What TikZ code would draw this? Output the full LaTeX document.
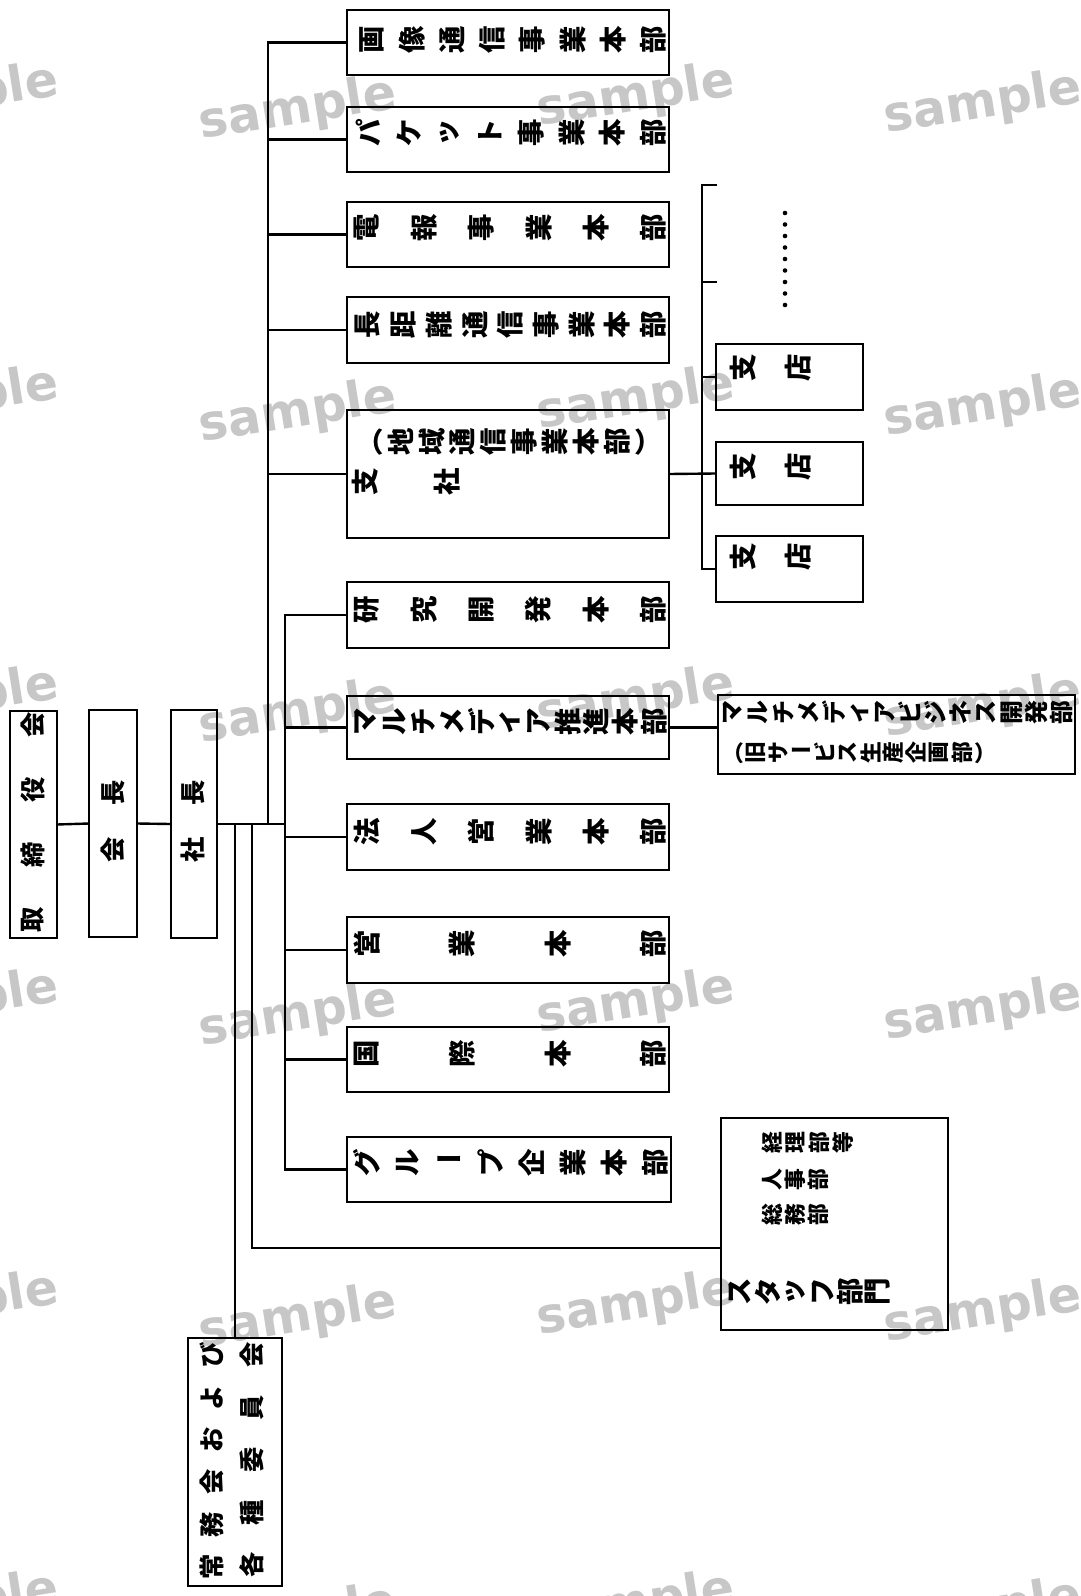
\documentclass[tikz,border=0pt]{standalone}
\usepackage{fontspec}
\usetikzlibrary{calc}
\newfontfamily\cjk{Noto Sans CJK JP}
\newfontfamily\cjkv{Noto Sans CJK JP}
\newfontfamily\wmfont{DejaVu Sans}
\tikzset{
 box/.style={draw, line width=1.9pt, inner sep=0pt, outer sep=0pt, rectangle},
 conn/.style={line width=1.7pt},
 ch/.style={inner sep=0pt, font=\cjkv\bfseries\fontsize{19.5}{20}\selectfont},
 rot/.style={rotate=90},
 chh/.style={font=\cjk\bfseries\fontsize{18}{20}\selectfont},
 small/.style={font=\cjkv\bfseries\fontsize{17}{18}\selectfont},
 smaller/.style={font=\cjkv\bfseries\fontsize{15.5}{16}\selectfont},
 wmark/.style={rotate=9, text=black!22, font=\wmfont\bfseries\fontsize{35}{36}\selectfont, inner sep=0pt}
}
\newcommand\bx[5]{\node[box, minimum width={(#4-#2)*0.025cm}, minimum height={(#5-#3)*0.025cm}] (#1) at ({(#2+#4)/2},{(#3+#5)/2}) {};}
\newcommand\crow[8][]{\foreach \chr [count=\ci from 0] in {#8} {%
  \node[ch,rot,#1] (#2-\ci) at ({#4+(#6-#4)*\ci/(#3-1)},{#5+(#7-#5)*\ci/(#3-1)}) {\chr};}}
\begin{document}
\begin{tikzpicture}[x=0.025cm,y=-0.025cm]
\useasboundingbox (0,0) rectangle (1080,1596);
\clip (0,0) rectangle (1080,1596);
% watermarks
\foreach \wy in {102,405,705,1008,1310,1610} {
  \node[wmark] (wma\wy) at (-40,\wy-5) {sample};
  \node[wmark] (wmb\wy) at (298,\wy+8) {sample};
  \node[wmark] (wmc\wy) at (636,\wy-5) {sample};
  \node[wmark] (wmd\wy) at (983,\wy+2) {sample};
}
% boxes
\bx{b1}{347}{10}{669}{75}
\bx{b2}{347}{107}{669}{172}
\bx{b3}{347}{202}{669}{267}
\bx{b4}{347}{297}{669}{363}
\bx{b5}{347}{410}{669}{538}
\bx{b6}{347}{582}{669}{648}
\bx{b7}{347}{696}{669}{759}
\bx{b8}{347}{804}{669}{870}
\bx{b9}{347}{917}{669}{983}
\bx{b10}{347}{1027}{669}{1092}
\bx{b11}{347}{1137}{671}{1202}
\bx{multi}{718}{695}{1075}{774}
\bx{ten1}{716}{344}{863}{410}
\bx{ten2}{716}{442}{863}{505}
\bx{ten3}{716}{536}{863}{602}
\bx{staff}{721}{1118}{948}{1330}
\bx{tori}{10}{711}{57}{938}
\bx{kai}{89}{710}{137}{937}
\bx{sha}{171}{710}{217}{938}
\bx{jomu}{188}{1338}{282}{1586}
% texts
\crow{t1}{8}{372}{40}{653}{40}{画,像,通,信,事,業,本,部}
\crow{t2}{8}{368}{133}{653}{133}{パ,ケ,ッ,ト,事,業,本,部}
\crow{t3}{6}{367}{228}{653}{228}{電,報,事,業,本,部}
\crow{t4}{9}{368}{325}{653}{325}{長,距,離,通,信,事,業,本,部}
\crow{t5}{10}{370}{442}{648}{442}{{},地,域,通,信,事,業,本,部,{}}
\node[ch] (t5-0u) at (t5-0) {（};
\node[ch] (t5-9u) at (t5-9) {）};
\crow{t5b}{2}{365}{482}{447}{482}{支,社}
\crow{t6}{6}{367}{610}{653}{610}{研,究,開,発,本,部}
\crow{t7}{11}{366}{722}{654}{722}{マ,ル,チ,メ,デ,ィ,ア,推,進,本,部}
\crow{t8}{6}{367}{832}{653}{832}{法,人,営,業,本,部}
\crow{t9}{4}{367}{944}{653}{944}{営,業,本,部}
\crow{t10}{4}{367}{1054}{653}{1054}{国,際,本,部}
\crow{t11}{8}{367}{1163}{655}{1163}{グ,ル,{},プ,企,業,本,部}
\node[ch] (t11-2u) at (t11-2) {ー};
\crow[small]{m1}{14}{733}{713}{1062}{713}{マ,ル,チ,メ,デ,ィ,ア,ビ,ジ,ネ,ス,開,発,部}
\crow[smaller]{m2}{12}{733}{753}{985}{753}{{},旧,サ,{},ビ,ス,生,産,企,画,部,{}}
\node[ch,smaller] (m2-0u) at (m2-0) {（};
\node[ch,smaller] (m2-3u) at (m2-3) {ー};
\node[ch,smaller] (m2-11u) at (m2-11) {）};
\crow{s1}{2}{743}{368}{798}{368}{支,店}
\crow{s2}{2}{743}{467}{798}{467}{支,店}
\crow{s3}{2}{743}{557}{798}{557}{支,店}
\crow[smaller]{f1}{4}{772}{1143}{843}{1143}{経,理,部,等}
\crow[smaller]{f2}{3}{772}{1180}{818}{1180}{人,事,部}
\crow[smaller]{f3}{3}{772}{1215}{818}{1215}{総,務,部}
\crow{f4}{6}{740}{1292}{878}{1292}{ス,タ,ッ,フ,部,門}
\crow[chh]{h1}{4}{33}{920}{33}{725}{取,締,役,会}
\crow[chh]{h2}{2}{113}{850}{113}{793}{会,長}
\crow[chh]{h3}{2}{193}{850}{193}{793}{社,長}
\crow[chh]{h4}{6}{212}{1567}{212}{1355}{常,務,会,お,よ,び}
\crow[chh]{h5}{5}{252}{1565}{252}{1355}{各,種,委,員,会}
% junctions
\coordinate (ja) at (268,824);
\coordinate (jb) at (285,824);
\coordinate (js) at (252,824);
\coordinate (jc) at (235,824);
\coordinate (t3a) at (702,185);
\coordinate (t3b) at (702,282);
\coordinate (k1) at (717,185);
\coordinate (k2) at (717,282);
\coordinate (staffin) at ($(staff.north west)!0.613!(staff.south west)$);
% connectors
\begin{scope}[conn]
\draw (tori.east) -- (kai.west);
\draw (kai.east) -- (sha.west);
\draw (sha.east) -- (sha.east -| jb);
\draw (b1.west) -| (ja);
\foreach \b in {b2,b3,b4,b5} \draw (\b.west) -- (\b.west -| ja);
\draw (b6.west) -| (jb) |- (b11.west);
\foreach \b in {b7,b8,b9,b10} \draw (\b.west) -- (\b.west -| jb);
\draw (js) |- (staffin);
\draw (jc) -- (jomu.north);
\draw (k1) -- (t3a) |- (ten3.west);
\draw (t3b) -- (k2);
\draw (ten1.west) -- (ten1.west -| t3a);
\draw (b5.east) -- (ten2.west);
\draw (b7.east) -- (b7.east -| multi.west);
\end{scope}
\foreach \d in {0,...,8} \fill (785,213+\d*11.5) circle (2.3);
\end{tikzpicture}
\end{document}
